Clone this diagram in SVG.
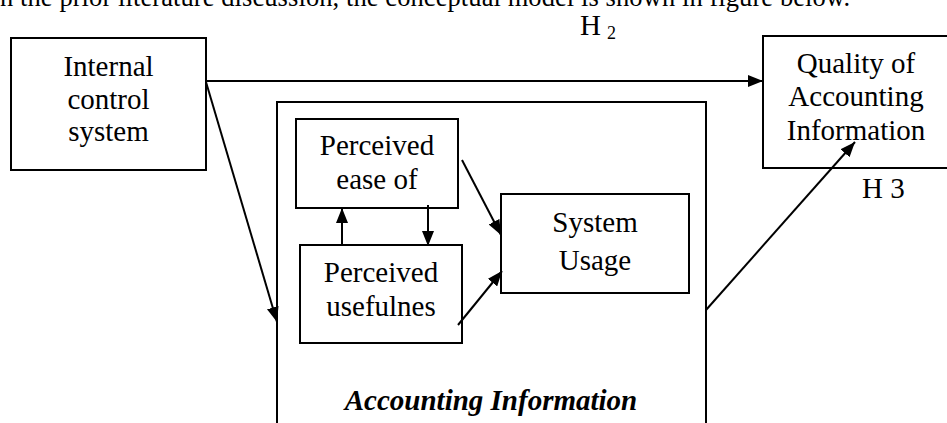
<svg xmlns="http://www.w3.org/2000/svg" width="947" height="423" viewBox="0 0 947 423">
<style>
.box{fill:#fff;stroke:#000;stroke-width:2}
.t{font-family:"Liberation Serif","Times New Roman",serif;font-size:29px;fill:#000;text-anchor:middle}
.c{stroke:#000;stroke-width:2;fill:none;marker-end:url(#ah)}
</style>
<defs>
<marker id="ah" markerUnits="userSpaceOnUse" markerWidth="15" markerHeight="12" refX="15" refY="6" orient="auto">
<path d="M0,0 L15,6 L0,12 z" fill="#000"/>
</marker>
</defs>
<rect width="947" height="423" fill="#fff"/>
<text x="0" y="6" style="font-family:'Liberation Serif',serif;font-size:26.5px" textLength="850">n the prior literature discussion, the conceptual model is shown in figure below.</text>
<text x="580" y="35" style="font-family:'Liberation Serif',serif;font-size:29px">H</text>
<text x="607" y="39" style="font-family:'Liberation Serif',serif;font-size:18px">2</text>
<text x="862" y="198" style="font-family:'Liberation Serif',serif;font-size:29px">H 3</text>

<g id="container">
<path d="M277,423 V102 H706 V423" fill="none" stroke="#000" stroke-width="2"/>
<text x="491" y="410" style="font-family:'Liberation Serif',serif;font-size:29px;font-weight:bold;font-style:italic;text-anchor:middle">Accounting Information</text>
</g>
<g id="internal">
<rect class="box" x="11" y="38" width="195" height="132"/>
<text class="t" x="108.5" y="76">Internal</text>
<text class="t" x="108.5" y="109">control</text>
<text class="t" x="108.5" y="141">system</text>
</g>
<g id="quality">
<rect class="box" x="763" y="36" width="200" height="132"/>
<text class="t" x="856" y="73">Quality of</text>
<text class="t" x="856" y="106">Accounting</text>
<text class="t" x="856" y="140">Information</text>
</g>
<g id="ease">
<rect class="box" x="296" y="119" width="162" height="89"/>
<text class="t" x="377" y="155">Perceived</text>
<text class="t" x="377" y="189">ease of</text>
</g>
<g id="usefulness">
<rect class="box" x="300" y="245" width="162" height="98"/>
<text class="t" x="381" y="282">Perceived</text>
<text class="t" x="381" y="316">usefulnes</text>
</g>
<g id="usage">
<rect class="box" x="501" y="194" width="188" height="99"/>
<text class="t" x="595" y="232">System</text>
<text class="t" x="595" y="270">Usage</text>
</g>
<g id="connectors">
<line class="c" x1="206" y1="81" x2="763" y2="81"/>
<line class="c" x1="206" y1="82" x2="277" y2="322"/>
<line class="c" x1="342" y1="246" x2="342" y2="208"/>
<line class="c" x1="428" y1="205" x2="428" y2="246"/>
<line class="c" x1="462" y1="160" x2="501" y2="235"/>
<line class="c" x1="458" y1="325" x2="502" y2="271"/>
<line class="c" x1="706" y1="310" x2="855" y2="142"/>
</g>
</svg>
